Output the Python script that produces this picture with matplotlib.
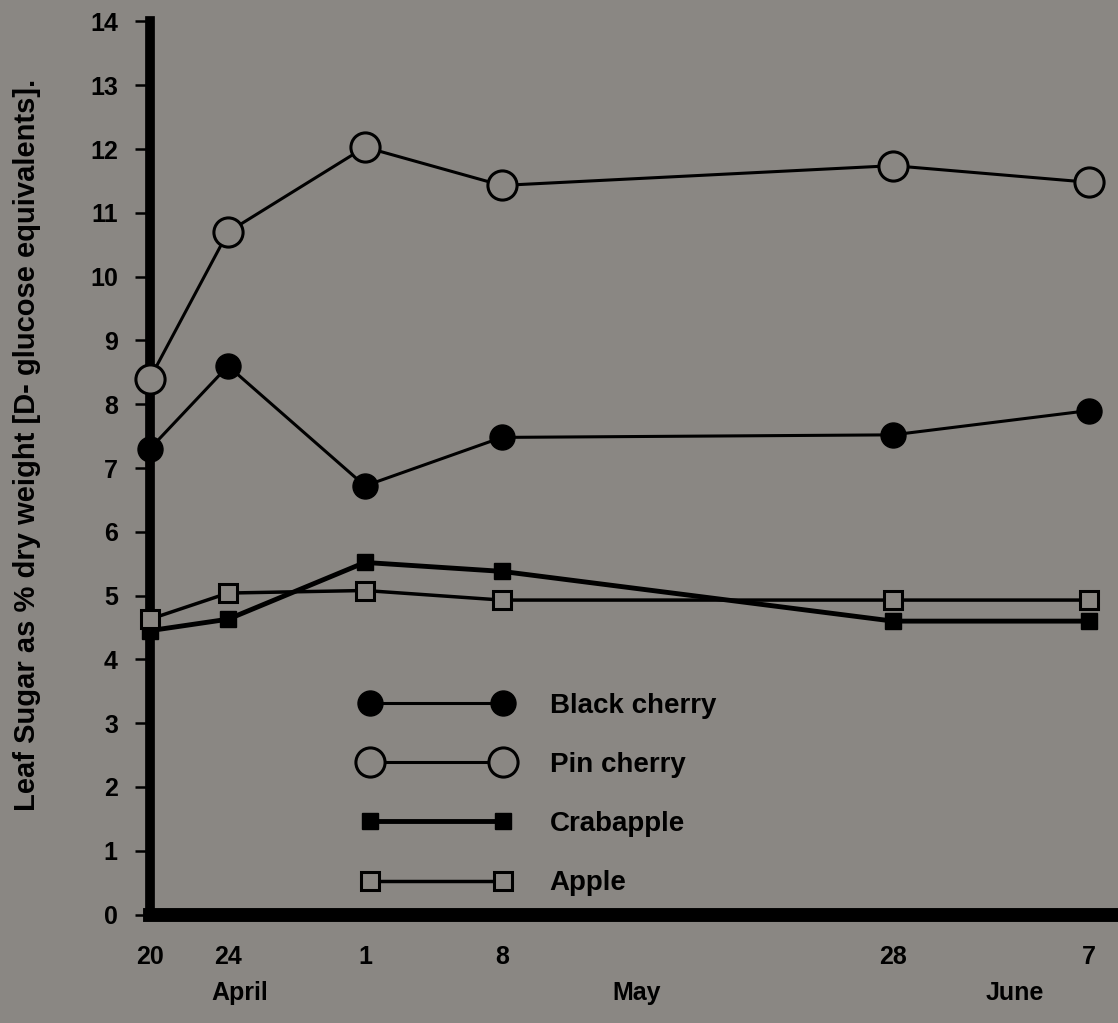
import matplotlib.pyplot as plt
import matplotlib.transforms as mtransforms

# days after April 20
days = [0, 4, 11, 18, 38, 48]
day_labels = ["20", "24", "1", "8", "28", "7"]
months = ["April", "May", "June"]
month_pos = [4.6, 24.9, 44.2]

black_cherry = [7.3, 8.6, 6.72, 7.48, 7.52, 7.9]
pin_cherry = [8.4, 10.7, 12.03, 11.43, 11.74, 11.48]
crabapple = [4.45, 4.63, 5.52, 5.38, 4.6, 4.6]
apple = [4.63, 5.04, 5.08, 4.93, 4.93, 4.93]

bg = "#8a8783"
plt.rcParams['font.family'] = ['Liberation Sans', 'DejaVu Sans']
plt.rcParams['font.weight'] = 'bold'
plt.rcParams['axes.labelweight'] = 'bold'

fig = plt.figure(figsize=(11.18, 10.23), dpi=100, facecolor=bg)
ax = fig.add_axes([0.134, 0.106, 0.866, 0.873], facecolor=bg)

ax.plot(days, black_cherry, '-o', color='black', lw=2.2, ms=18, mfc='black',
        mec='black', label="Black cherry", clip_on=False, zorder=5)
ax.plot(days, pin_cherry, '-o', color='black', lw=2.2, ms=21, mfc=bg,
        mec='black', mew=2.2, label="Pin cherry", clip_on=False, zorder=5)
ax.plot(days, crabapple, '-s', color='black', lw=3.5, ms=11, mfc='black',
        mec='black', label="Crabapple", clip_on=False, zorder=4)
ax.plot(days, apple, '-s', color='black', lw=2.5, ms=13, mfc=bg,
        mec='black', mew=2.2, label="Apple", clip_on=False, zorder=4)

ax.set_xlim(0, 49.5)
ax.set_ylim(0, 14)
ax.set_yticks(range(15))
ax.set_xticks(days)
ax.set_xticklabels(day_labels)
ax.tick_params(axis='y', length=11, width=1.8, pad=12, labelsize=18)
ax.tick_params(axis='x', length=0, pad=22, labelsize=18)

for s in ['top', 'right']:
    ax.spines[s].set_visible(False)
ax.spines['left'].set_linewidth(7)
ax.spines['bottom'].set_linewidth(10)

trans = mtransforms.blended_transform_factory(ax.transData, fig.transFigure)
for m, p in zip(months, month_pos):
    fig.text(p, 0.029, m, transform=trans, ha='center', va='center', fontsize=18)

ax.set_ylabel("Leaf Sugar as % dry weight [D- glucose equivalents].", fontsize=21)
ax.yaxis.set_label_coords(-0.112, 0.526)

leg = ax.legend(loc='upper left', bbox_to_anchor=(0.193, 0.276), frameon=False,
                numpoints=2, handlelength=5.4, labelspacing=1.19, fontsize=20,
                handletextpad=1.37)

fig.savefig("out.png", dpi=100, facecolor=bg)
